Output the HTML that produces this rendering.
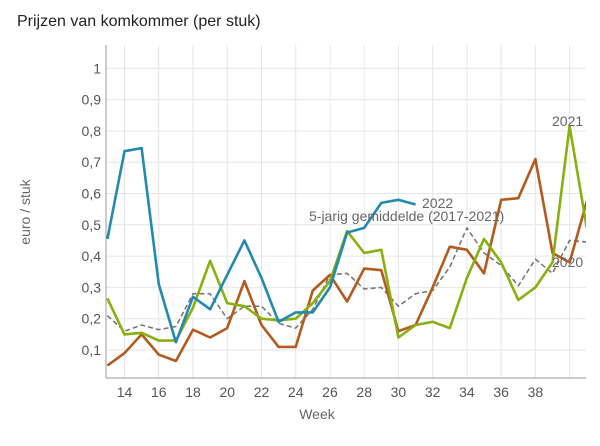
<!DOCTYPE html>
<html><head><meta charset="utf-8"><style>
body{margin:0;background:#fff;width:600px;height:441px;overflow:hidden;font-family:"Liberation Sans",sans-serif}
</style></head><body>
<svg id="c" width="600" height="441" xmlns="http://www.w3.org/2000/svg" font-family="Liberation Sans, sans-serif">
<text x="17" y="26" font-size="16" fill="#222">Prijzen van komkommer (per stuk)</text>
<text transform="translate(30,212) rotate(-90)" font-size="14" fill="#666" text-anchor="middle">euro / stuk</text>
<text x="317" y="419" font-size="14" fill="#666" text-anchor="middle">Week</text>
<g id="g"></g>
</svg>
<script>
var X=function(w){return 107.4+(w-13)*17.12},Y=function(v){return 68.3+(1-v)*313};
var g=document.getElementById('g'),s='';
for(var i=1;i<=10;i++){var y=Y(i/10);s+='<line x1="106" x2="586" y1="'+y+'" y2="'+y+'" stroke="#e6e6e6"/>';
s+='<text x="101" y="'+(y+5)+'" font-size="14" fill="#555" text-anchor="end">'+(i==10?'1':'0,'+i)+'</text>';}
for(var w=14;w<=40;w+=2){var x=X(w);s+='<line x1="'+x+'" x2="'+x+'" y1="45" y2="378" stroke="#e6e6e6"/>';
if(w<=38)s+='<text x="'+x+'" y="397" font-size="14" fill="#555" text-anchor="middle">'+w+'</text>';}
s+='<line x1="106" x2="106" y1="45" y2="378" stroke="#999"/><line x1="106" x2="586" y1="378" y2="378" stroke="#999"/>';
function L(d,c,sw,extra){var p=d.map(function(v,i){return X(13+i).toFixed(1)+','+Y(v).toFixed(1)}).join(' ');
return '<polyline points="'+p+'" fill="none" stroke="'+c+'" stroke-width="'+sw+'" stroke-linejoin="round" '+(extra||'')+'/>';}
var grey=[0.21,0.16,0.18,0.165,0.175,0.28,0.28,0.2,0.24,0.24,0.185,0.17,0.23,0.34,0.345,0.295,0.3,0.24,0.28,0.29,0.365,0.49,0.41,0.37,0.305,0.39,0.345,0.45,0.445];
var org=[0.05,0.09,0.15,0.085,0.065,0.165,0.14,0.17,0.32,0.18,0.11,0.11,0.29,0.34,0.255,0.36,0.355,0.16,0.18,0.3,0.43,0.42,0.345,0.58,0.585,0.71,0.41,0.38,0.575];
var grn=[0.265,0.15,0.155,0.13,0.13,0.235,0.385,0.25,0.24,0.2,0.195,0.2,0.25,0.32,0.48,0.41,0.42,0.14,0.18,0.19,0.17,0.33,0.455,0.38,0.26,0.3,0.38,0.815,0.49];
var blu=[0.455,0.735,0.745,0.31,0.125,0.27,0.23,0.34,0.45,0.33,0.19,0.22,0.22,0.3,0.475,0.49,0.57,0.58,0.565];
s+='<svg x="106" y="45" width="480" height="340" overflow="hidden"><g transform="translate(-106,-45)">';
s+=L(grey,'#777',1.6,'stroke-dasharray="5,3"')+L(org,'#b35a1f',2.6)+L(grn,'#88b00e',2.6)+L(blu,'#2489b0',2.6);
s+='</g></svg>';
s+='<text x="422" y="208" font-size="14" fill="#666">2022</text>';
s+='<text x="309" y="221" font-size="14" fill="#666">5-jarig gemiddelde (2017-2021)</text>';
s+='<text x="552" y="126" font-size="14" fill="#666">2021</text>';
s+='<text x="552" y="267" font-size="14" fill="#666">2020</text>';
g.innerHTML=s;
</script>
</body></html>
